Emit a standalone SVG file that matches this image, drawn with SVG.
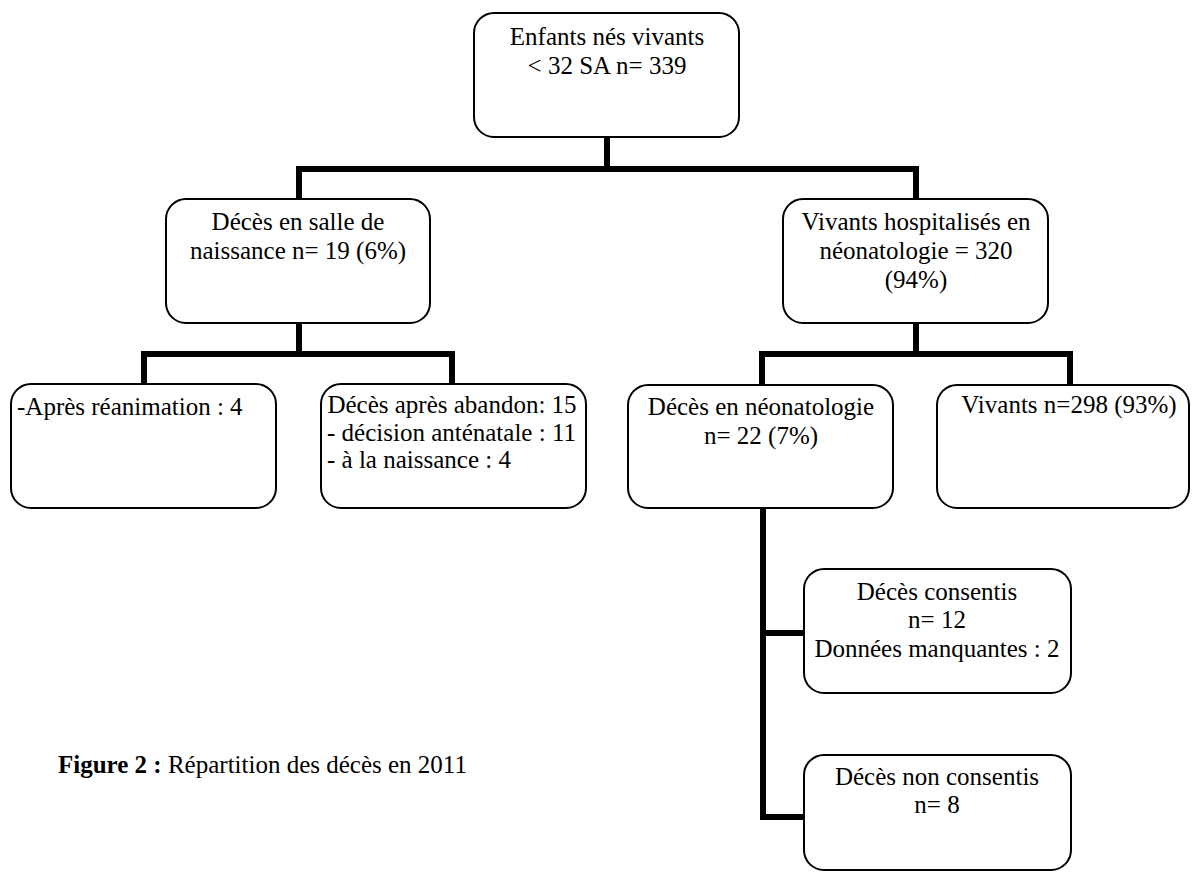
<svg xmlns="http://www.w3.org/2000/svg" width="1192" height="873" viewBox="0 0 1192 873">
<style>
.box{fill:#fff;stroke:#000;stroke-width:2}
.t{font-family:"Liberation Serif","Times New Roman",serif;font-size:25px;fill:#000}
.c{text-anchor:middle}
.conn{fill:none;stroke:#000;stroke-width:6;stroke-linejoin:miter;stroke-linecap:butt}
</style>
<rect width="1192" height="873" fill="#fff"/>
<g id="connectors">
<path class="conn" d="M607,137 V169 M299,199 V169 H916 V199"/>
<path class="conn" d="M299,323 V354 M144,384 V354 H452 V384"/>
<path class="conn" d="M916,323 V354 M762,385 V354 H1070 V385"/>
<path class="conn" d="M763,508 V817 H804 M760,633 H804"/>
</g>
<g id="n-root">
<rect class="box" x="474" y="13" width="265" height="124" rx="20"/>
<text class="t c" x="607" y="45">Enfants nés vivants</text>
<text class="t c" x="607" y="74">&lt; 32 SA n= 339</text>
</g>
<g id="n-salle">
<rect class="box" x="166" y="199" width="264" height="124" rx="20"/>
<text class="t c" x="298" y="230">Décès en salle de</text>
<text class="t c" x="298" y="259">naissance n= 19 (6%)</text>
</g>
<g id="n-hosp">
<rect class="box" x="783" y="199" width="265" height="124" rx="20"/>
<text class="t c" x="916" y="230">Vivants hospitalisés en</text>
<text class="t c" x="916" y="259">néonatologie = 320</text>
<text class="t c" x="916" y="288">(94%)</text>
</g>
<g id="n-reanim">
<rect class="box" x="11" y="384" width="265" height="124" rx="20"/>
<text class="t" x="17" y="415">-Après réanimation : 4</text>
</g>
<g id="n-abandon">
<rect class="box" x="321" y="384" width="265" height="124" rx="20"/>
<text class="t c" x="452" y="413">Décès après abandon: 15</text>
<text class="t" x="327" y="441">- décision anténatale : 11</text>
<text class="t" x="327" y="468">- à la naissance : 4</text>
</g>
<g id="n-neonat">
<rect class="box" x="628" y="385" width="265" height="123" rx="20"/>
<text class="t c" x="761" y="415">Décès en néonatologie</text>
<text class="t c" x="761" y="444">n= 22 (7%)</text>
</g>
<g id="n-vivants">
<rect class="box" x="937" y="385" width="252" height="123" rx="20"/>
<text class="t c" x="1069" y="413">Vivants n=298 (93%)</text>
</g>
<g id="n-consentis">
<rect class="box" x="804" y="569" width="267" height="124" rx="20"/>
<text class="t c" x="937" y="600">Décès consentis</text>
<text class="t c" x="937" y="628">n= 12</text>
<text class="t c" x="937" y="657">Données manquantes : 2</text>
</g>
<g id="n-nonconsentis">
<rect class="box" x="804" y="755" width="267" height="115" rx="20"/>
<text class="t c" x="937" y="785">Décès non consentis</text>
<text class="t c" x="937" y="813">n= 8</text>
</g>
<g id="caption">
<text class="t" x="58" y="773" font-size="26"><tspan font-weight="bold">Figure 2 :</tspan> Répartition des décès en 2011</text>
</g>
</svg>
